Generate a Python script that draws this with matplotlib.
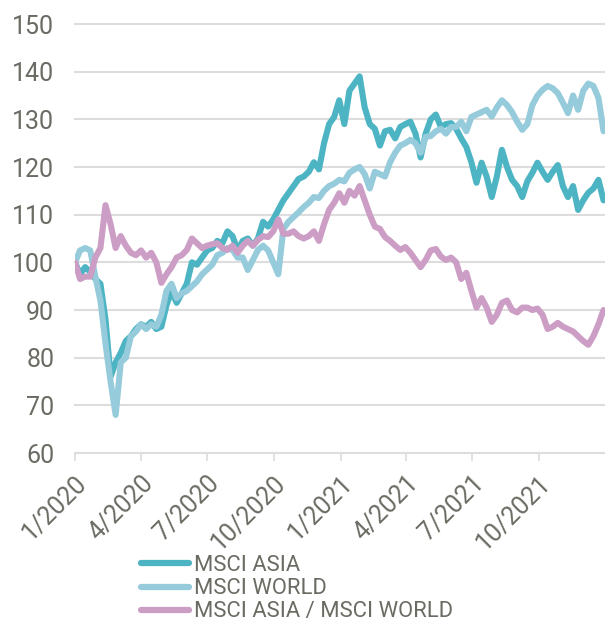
import matplotlib
matplotlib.use("Agg")
import matplotlib.pyplot as plt
import pandas as pd

# weekly observations starting 2020-01-01
start_date = "2020-01-01"

msci_asia = [100, 97.5, 99, 98, 96.5, 95.5, 88, 76, 79, 81,
             83.5, 84.5, 86, 87, 86.5, 87.5, 86, 86.5, 91, 94,
             91.5, 93.5, 95.5, 100, 99.5, 101, 102.5, 103, 104.5, 104,
             106.5, 105.5, 102.5, 104.5, 105, 103.5, 105, 108.5, 107.5, 109,
             111, 113, 114.5, 116, 117.5, 118, 119, 121, 119.5, 125,
             129, 130.5, 134, 129, 136, 137.5, 139, 132.5, 129, 128,
             124.5, 127.5, 127.8, 126, 128.4, 129, 129.5, 127, 122, 127,
             130, 131, 128.4, 129, 129.2, 128, 126, 124.2, 121, 116.7,
             120.9, 118, 113.7, 118, 123.6, 120, 117.3, 116, 113.7, 117,
             118.8, 120.9, 119, 117.3, 119, 120.4, 116, 113.7, 116, 111,
             113, 114.6, 115.5, 117.3, 113]

msci_world = [100, 102.5, 103, 102.5, 97, 92, 83, 75, 68, 79,
              80, 84.5, 85.5, 87, 86, 87, 86.5, 89, 94, 95.5,
              92.5, 93.5, 94, 95, 96, 97.5, 98.5, 99.5, 101.5, 102,
              103, 102.6, 101, 101, 98.4, 100.5, 102.6, 103.5, 102.5, 100,
              97.5, 107, 108.5, 109.5, 110.5, 111.6, 112.5, 113.7, 113.5, 115,
              116, 116.5, 117.3, 117, 118.8, 119.5, 120, 118.5, 115.5, 119,
              118.5, 118, 121, 123, 124.5, 125, 125.7, 125, 123, 126.3,
              126.5, 127.5, 128, 127, 128.4, 128.4, 129.5, 127.5, 130.5, 131,
              131.5, 132, 130.6, 132.5, 134, 133, 131.5, 129.5, 127.8, 129,
              133, 135, 136.2, 137, 136.5, 135.5, 133.5, 131.3, 135, 132,
              136, 137.5, 137, 134.5, 127.5]

asia_over_world = [100, 96.5, 97, 97, 101, 103, 112, 108, 103, 105.5,
                   103.5, 102, 101.5, 102.5, 101, 102, 100, 95.7, 97.5, 99,
                   101, 101.5, 102.6, 105, 104, 103, 103.5, 103.8, 104, 103,
                   102.6, 103.5, 102, 103.5, 104.5, 103.5, 104.7, 105.5, 105.3, 106.5,
                   109, 106, 106, 106.5, 105.5, 105, 105.5, 106.5, 104.5, 108,
                   111, 112.5, 114.5, 112.5, 115, 114, 116, 113, 110, 107.5,
                   107, 105.3, 104.5, 103.5, 102.6, 103.2, 102, 100.5, 99, 100.5,
                   102.5, 102.8, 101.2, 100.5, 101, 100, 96.5, 97.8, 94, 90.5,
                   92.5, 90.5, 87.5, 89, 91.5, 92, 90, 89.5, 90.5, 90.5,
                   90, 90.3, 89, 86, 86.5, 87.3, 86.5, 86, 85.5, 84.5,
                   83.5, 82.7, 84.5, 87, 90]

series_names = ["MSCI ASIA", "MSCI WORLD", "MSCI ASIA / MSCI WORLD"]
series_colors = ["#4db4c3", "#95cbdb", "#cc9ec5"]
tick_labels = ["1/2020", "4/2020", "7/2020", "10/2020",
               "1/2021", "4/2021", "7/2021", "10/2021"]
tick_dates = ["2020-01-01", "2020-04-01", "2020-07-01", "2020-10-01",
              "2021-01-01", "2021-04-01", "2021-07-01", "2021-10-01"]
y_ticks = [60, 70, 80, 90, 100, 110, 120, 130, 140, 150]

dates = pd.date_range(start_date, periods=len(msci_asia), freq="7D")

plt.rcParams["font.family"] = ["Roboto", "DejaVu Sans"]
text_color = "#6b6b63"
grid_color = "#dddddd"

fig = plt.figure(figsize=(6.05, 6.25), dpi=100)
ax = fig.add_axes([75 / 605, 1 - 453 / 625, 1 - 75 / 605, (453 - 24) / 625])

for vals, name, col in zip([msci_asia, msci_world, asia_over_world], series_names, series_colors):
    ax.plot(dates, vals, color=col, lw=4.4, label=name,
            solid_joinstyle="round", solid_capstyle="round")

ax.set_ylim(60, 150)
ax.set_xlim(pd.Timestamp("2020-01-01"), pd.Timestamp("2021-12-31"))
ax.set_yticks(y_ticks)
ax.set_yticklabels([str(v) for v in y_ticks])
ax.set_xticks(pd.to_datetime(tick_dates))
ax.set_xticklabels(tick_labels, rotation=45, ha="right", va="top",
                   rotation_mode="anchor")

ax.grid(axis="y", color=grid_color, lw=1.5)
ax.set_axisbelow(True)
for gl in ax.get_ygridlines():
    gl.set_clip_on(False)
for s in ax.spines.values():
    s.set_visible(False)

ax.tick_params(axis="y", length=0, pad=15, labelsize=18, labelcolor=text_color)
ax.tick_params(axis="x", length=6, width=1.2, color=grid_color, pad=7,
               labelsize=18, labelcolor=text_color)

leg = fig.legend(loc="upper left", bbox_to_anchor=(141 / 605, 1 - 555 / 625),
                 frameon=False, fontsize=15.8,
                 handlelength=2.2, handletextpad=0.2,
                 labelspacing=0.1, borderpad=0, borderaxespad=0)
for t in leg.get_texts():
    t.set_color(text_color)
for h in leg.get_lines():
    h.set_linewidth(4.5)
    h.set_solid_capstyle("round")

fig.savefig("out.png", dpi=100)
